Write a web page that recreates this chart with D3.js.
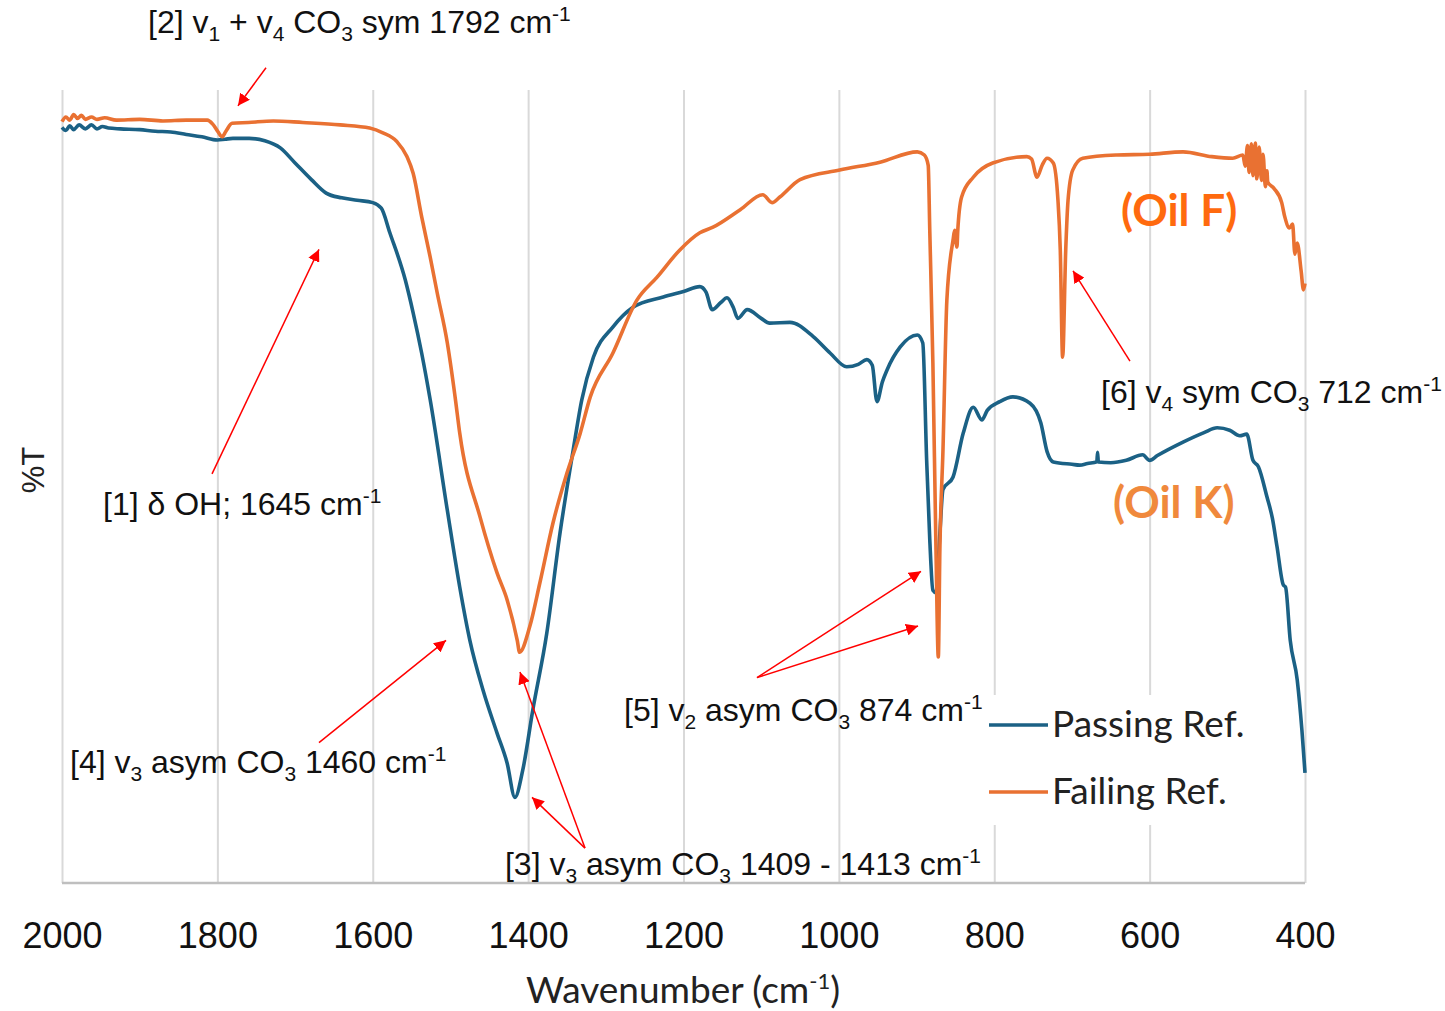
<!DOCTYPE html>
<html>
<head>
<meta charset="utf-8">
<script src="https://cdn.jsdelivr.net/npm/d3@7"></script>
<style>
html,body{margin:0;padding:0;background:#fff;}
svg{display:block;}
</style>
</head>
<body>
<svg id="chart" width="1445" height="1011"></svg>
<script>
// ---------------- DATA ----------------
const xTicks = [2000, 1800, 1600, 1400, 1200, 1000, 800, 600, 400];
const seriesNames = ["Passing Ref.", "Failing Ref."];

// Passing Ref. (Oil K) : wavenumber (cm-1) and %T
const passingWavenumber = [2000,1995,1990,1985,1978,1970,1962,1955,1948,1940,1925,1900,1880,1860,1840,1820,1800,1790,1780,1759,1739,1719,1700,1679,1660,1640,1620,1600,1589,1578,1558,1548,1537,1526,1504,1488,1475,1458,1440,1427,1417,1407,1394,1376,1359,1342,1331,1316,1291,1265,1226,1200,1179,1171,1163,1152,1144,1136,1130,1118,1100,1089,1063,1033,1011,990,975,964,957,951,944,938,921,899,892,887,883,879,875,870,866,853,840,827,816,809,793,776,754,740,732,724,700,690,680,668,667,666,650,630,609,600,590,557,530,513,497,484,475,467,460,449,442,436,428,425,419,410,404,400];
const passingT = [95.3,94.9,95.5,95.0,95.6,95.1,95.6,95.1,95.4,95.2,95.1,95.0,94.8,94.7,94.4,94.1,93.7,93.8,93.9,93.9,93.6,92.7,90.8,88.7,87.0,86.4,86.1,85.8,85.1,82.0,76.0,71.9,66.8,60.9,47.0,37.3,30.6,24.3,18.9,15.1,10.8,14.2,21.8,31.5,44.1,54.6,60.9,66.3,70.1,72.6,73.9,74.6,75.2,74.5,72.3,73.2,73.8,72.6,71.2,72.3,71.2,70.6,70.7,68.9,66.8,65.1,65.4,66.0,65.3,60.7,63.2,64.7,67.6,69.1,68.1,53.3,43.3,36.9,36.6,44.1,49.6,51.2,56.7,60.0,58.4,59.6,60.7,61.3,60.5,58.0,54.4,53.1,52.8,52.7,52.9,53.1,54.3,53.1,53.0,53.3,54.0,53.3,53.9,55.6,56.8,57.4,57.1,56.4,56.6,53.3,52.5,48.7,46.0,42.4,37.6,37.3,30.6,25.6,19.3,13.9];

// Failing Ref. (Oil F) : wavenumber (cm-1) and %T
const failingWavenumber = [2000,1995,1990,1985,1980,1975,1970,1962,1955,1945,1930,1900,1870,1840,1813,1806,1799,1794,1789,1781,1760,1728,1690,1642,1604,1587,1569,1556,1548,1537,1526,1517,1504,1494,1488,1462,1440,1427,1414,1411,1398,1385,1368,1350,1333,1320,1291,1260,1234,1205,1179,1162,1127,1098,1086,1076,1050,999,947,899,890,885,883,879,875,872,870,866,861,853,851,848,847,842,827,802,758,752,745,738,732,724,718,715,712,708,705,699,686,642,600,557,520,493,480,477,474,472,469,467,464,462,459,456,454,451,449,448,440,430,426,420,416,413,410,405,402,400];
const failingT = [96.0,96.6,96.2,96.9,96.4,96.8,96.3,96.6,96.3,96.5,96.2,96.3,96.1,96.2,96.2,95.7,94.7,94.1,94.8,95.8,95.9,96.1,95.9,95.6,95.2,94.6,93.5,91.6,89.5,84.0,78.9,74.4,68.1,61.3,56.7,46.2,39.1,35.7,30.6,29.1,32.3,37.8,45.4,51.7,56.7,61.3,66.8,73.5,76.4,79.8,82.0,82.7,84.9,86.8,85.8,86.5,88.7,89.9,90.9,92.2,91.8,90.5,82.3,65.6,42.0,28.5,42.0,54.6,73.5,81.1,82.3,80.2,82.2,86.5,89.0,90.8,91.6,91.3,89.0,90.6,91.4,90.8,86.1,79.8,66.3,79.8,86.1,89.9,91.4,91.8,91.9,92.2,91.6,91.4,91.8,90.4,93.0,89.6,93.2,89.2,93.3,88.8,92.8,88.6,91.9,87.8,89.8,88.4,87.6,85.8,84.0,82.6,83.1,79.3,80.7,77.2,74.8,75.6,71.3];

// annotations: text segments ('' normal, 'sub', 'sup'), text anchor & arrows in data units [wavenumber, %T]
const annotations = [
  {segs:[["[1] δ OH; 1645 cm",""],["-1","sup"]], at:[1947.2,46.4],
   arrows:[[[1806.9,51.6],[1669.2,79.9]]]},
  {segs:[["[2] v",""],["1","sub"],[" + v",""],["4","sub"],[" CO",""],["3","sub"],[" sym 1792 cm",""],["-1","sup"]], at:[1889.3,107.2],
   arrows:[[[1737.4,102.8],[1773.5,98.0]]]},
  {segs:[["[3] v",""],["3","sub"],[" asym CO",""],["3","sub"],[" 1409 - 1413 cm",""],["-1","sup"]], at:[1429.8,1.0],
   arrows:[[[1326.8,4.4],[1395.0,10.8]],[[1326.8,4.4],[1410.5,26.6]]]},
  {segs:[["[4] v",""],["3","sub"],[" asym CO",""],["3","sub"],[" 1460 cm",""],["-1","sup"]], at:[1989.7,13.9],
   arrows:[[[1669.2,17.7],[1505.7,30.6]]]},
  {segs:[["[5] v",""],["2","sub"],[" asym CO",""],["3","sub"],[" 874 cm",""],["-1","sup"]], at:[1276.6,20.4],
   arrows:[[[1105.4,25.9],[894.3,39.3]],[[1105.4,25.9],[898.1,32.4]]]},
  {segs:[["[6] v",""],["4","sub"],[" sym CO",""],["3","sub"],[" 712 cm",""],["-1","sup"]], at:[662.5,60.5],
   arrows:[[[625.3,65.8],[698.6,77.2]]]}
];
const oilLabels = [
  {text:"(Oil F)", at:[636.8,82.9], color:"#FF6A0E"},
  {text:"(Oil K)", at:[647.1,46.0], color:"#F0893C"}
];

// ---------------- LAYOUT ----------------
const svg = d3.select("#chart");
const plotLeft = 62, plotRight = 1305, plotTop = 90, plotBottom = 883;
const x = d3.scaleLinear().domain([2000, 400]).range([plotLeft, plotRight]);
const y = d3.scaleLinear().domain([0, 100]).range([plotBottom, plotTop]);
const colors = ["#1B6185", "#E97132"];

svg.append("defs").append("marker")
  .attr("id","arrowhead").attr("viewBox","0 0 10 10")
  .attr("refX",10).attr("refY",5)
  .attr("markerWidth",12).attr("markerHeight",12)
  .attr("markerUnits","userSpaceOnUse")
  .attr("orient","auto")
  .append("path").attr("d","M0,0 L10,5 L0,10 Z").attr("fill","#FF0000");

// gridlines
const grid = svg.append("g").attr("transform",`translate(0,${plotBottom})`)
  .call(d3.axisBottom(x).tickValues(xTicks).tickSize(-(plotBottom-plotTop)).tickFormat(""));
grid.select(".domain").remove();
grid.selectAll("line").attr("stroke","#D9D9D9").attr("stroke-width",2);

// x axis labels
const ax = svg.append("g").attr("transform",`translate(0,${plotBottom})`)
  .call(d3.axisBottom(x).tickValues(xTicks).tickSize(0).tickPadding(0).tickFormat(d3.format("d")));
ax.select(".domain").remove();
ax.selectAll("text").attr("font-family","'Liberation Sans', Arial, sans-serif")
  .attr("font-size",36).attr("fill","#111").attr("dy",null).attr("y",65);

svg.append("line").attr("x1",plotLeft).attr("x2",plotRight).attr("y1",plotBottom).attr("y2",plotBottom)
  .attr("stroke","#BFBFBF").attr("stroke-width",2.5);

// axis titles
const xt = svg.append("text").attr("x",683).attr("y",1003).attr("text-anchor","middle")
  .attr("font-family","Lato, 'Open Sans', sans-serif").attr("font-size",37).attr("fill","#222");
xt.append("tspan").text("Wavenumber (cm");
xt.append("tspan").text("-1").attr("font-size",22).attr("dy",-14);
xt.append("tspan").text(")").attr("dy",14);

svg.append("text").attr("transform","translate(44,470) rotate(-90)").attr("text-anchor","middle")
  .attr("font-family","'Liberation Sans', Arial, sans-serif").attr("font-size",31).attr("fill","#222")
  .text("%T");

// lines
const line = d3.line().x(d => x(d[0])).y(d => y(d[1])).curve(d3.curveMonotoneX);
const passing = passingWavenumber.map((w,i)=>[w, passingT[i]]);
const failing = failingWavenumber.map((w,i)=>[w, failingT[i]]);
[passing, failing].forEach((data,i)=>{
  svg.append("path").datum(data).attr("d",line).attr("fill","none")
    .attr("stroke",colors[i]).attr("stroke-width",3.6).attr("stroke-linejoin","round");
});

// legend
const lg = svg.append("g");
lg.append("rect").attr("x",984).attr("y",695).attr("width",305).attr("height",130).attr("fill","#fff");
const legendY = [725, 792];
seriesNames.forEach((n,i)=>{
  lg.append("line").attr("x1",989).attr("x2",1048).attr("y1",legendY[i]).attr("y2",legendY[i])
    .attr("stroke",colors[i]).attr("stroke-width",3.4);
  lg.append("text").attr("x",1052).attr("y",legendY[i]+12).attr("font-family","Lato, 'Open Sans', sans-serif")
    .attr("font-size",37).attr("fill","#222").text(n);
});

// annotations
annotations.forEach(a=>{
  a.arrows.forEach(ar=>{
    svg.append("line").attr("x1",x(ar[0][0])).attr("y1",y(ar[0][1]))
      .attr("x2",x(ar[1][0])).attr("y2",y(ar[1][1]))
      .attr("stroke","#FF0000").attr("stroke-width",1.5).attr("marker-end","url(#arrowhead)");
  });
  const t = svg.append("text").attr("x",x(a.at[0])).attr("y",y(a.at[1]))
    .attr("font-family","'Liberation Sans', Arial, sans-serif").attr("font-size",32).attr("fill","#111");
  let shift = 0;
  a.segs.forEach(s=>{
    const target = s[1]==="sub" ? 8 : s[1]==="sup" ? -12 : 0;
    const ts = t.append("tspan").text(s[0]).attr("dy", target - shift);
    if (s[1]) ts.attr("font-size",21);
    shift = target;
  });
});

oilLabels.forEach(o=>{
  svg.append("text").attr("x",x(o.at[0])).attr("y",y(o.at[1]))
    .attr("font-family","Lato, 'Open Sans', sans-serif").attr("font-weight","bold")
    .attr("font-size",44).attr("fill",o.color).text(o.text);
});
</script>
</body>
</html>
